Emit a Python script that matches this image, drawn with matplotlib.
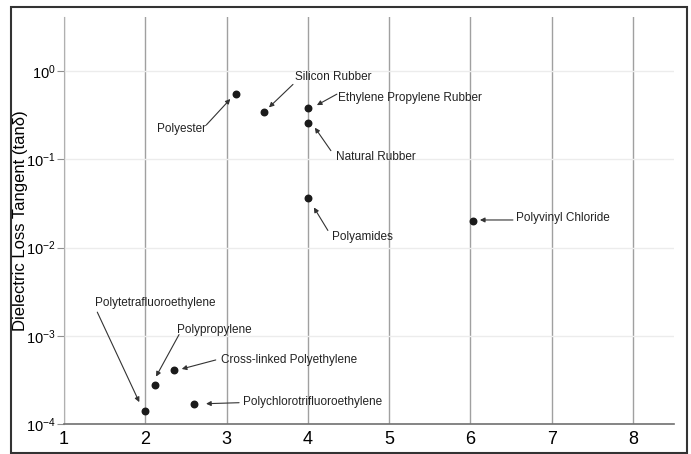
import matplotlib
matplotlib.use("Agg")
import matplotlib.pyplot as plt
from matplotlib.patches import Rectangle
from matplotlib.transforms import offset_copy

plt.rcParams['font.family'] = ['Liberation Sans', 'DejaVu Sans']
plt.rcParams['mathtext.fontset'] = 'custom'
plt.rcParams['mathtext.rm'] = 'Liberation Sans'
plt.rcParams['mathtext.it'] = 'Liberation Sans:italic'
plt.rcParams['axes.unicode_minus'] = False

# dielectric constant vs loss tangent of insulating polymers
materials = ["Polyester", "Silicon Rubber", "Ethylene Propylene Rubber",
             "Natural Rubber", "Polyamides", "Polyvinyl Chloride",
             "Polytetrafluoroethylene", "Polypropylene",
             "Cross-linked Polyethylene", "Polychlorotrifluoroethylene"]
permittivity = [3.12, 3.46, 4.0, 4.0, 4.0, 6.03, 2.0, 2.12, 2.35, 2.6]
loss_tangent = [0.55, 0.34, 0.38, 0.26, 0.036, 0.020, 1.4e-4, 2.8e-4, 4.1e-4, 1.7e-4]
y_ticks = [1e-4, 1e-3, 1e-2, 1e-1, 1e0]
y_exponents = [-4, -3, -2, -1, 0]

# label layout in pixels relative to each point (dx right, dy down):
# text anchor, arrow tail, arrow head
label_layout = [
    ((-55, 35, 'center'), (-30, 31), (-6, 5)),
    ((31, -35, 'left'), (29, -28), (5, -5)),
    ((30, -10, 'left'), (29, -14), (9, -3)),
    ((28, 34, 'left'), (23, 28), (7, 5)),
    ((24, 39, 'left'), (20, 32), (6, 9)),
    ((43, -3, 'left'), (40, -1), (7, -1)),
    ((-50, -108, 'left'), (-48, -99), (-6, -9)),
    ((22, -55, 'left'), (24, -50), (1, -8)),
    ((47, -10, 'left'), (42, -10), (8, -1)),
    ((49, -2, 'left'), (45, -1), (12, 0)),
]

fig = plt.figure(figsize=(6.91, 4.54), dpi=100)
ax = fig.add_axes([0.0926, 0.066, 0.8824, 0.8966])

ax.scatter(permittivity, loss_tangent, s=22, color='#1a1a1a', zorder=3)

ax.set_yscale('log')
ax.set_xlim(1, 8.5)
ax.set_ylim(1e-4, 4.1)
ax.set_xticks(range(1, 9))
ax.set_yticks(y_ticks)
ax.set_yticklabels([r'$\mathrm{10^{%d}}$' % e for e in y_exponents])
ax.minorticks_off()

ax.grid(axis='x', color='#a0a0a0', lw=1.0)
ax.grid(axis='y', color='#ececec', lw=1.0)
ax.set_axisbelow(True)

for s in ['top', 'right']:
    ax.spines[s].set_visible(False)
ax.spines['left'].set_color('#b0b0b0')
ax.spines['bottom'].set_color('#707070')
ax.spines['bottom'].set_linewidth(1.2)
ax.tick_params(axis='y', length=5, color='#909090', labelsize=10.5, pad=1)
ax.tick_params(axis='x', length=0, labelsize=13, pad=5)

ax.set_ylabel('Dielectric Loss Tangent (tanδ)', fontsize=12)
ax.yaxis.set_label_coords(-0.059, 0.5)

for name, x, y, (txt, tail, head) in zip(materials, permittivity, loss_tangent, label_layout):
    tx, ty, ha = txt
    ax.annotate(name, xy=(x, y), xytext=(tx, -ty), textcoords='offset pixels',
                ha=ha, va='center', fontsize=8.5, color='#222222')
    head_tr = offset_copy(ax.transData, fig=fig, x=head[0], y=-head[1], units='dots')
    ax.annotate('', xy=(x, y), xycoords=head_tr,
                xytext=(tail[0] - head[0], -(tail[1] - head[1])), textcoords='offset pixels',
                arrowprops=dict(arrowstyle='-|>', color='#333333', lw=0.8,
                                mutation_scale=7, shrinkA=0, shrinkB=0))

# outer frame
fig.patches.append(Rectangle((11 / 691, 1 / 454), 676 / 691, 446 / 454,
                             transform=fig.transFigure, fill=False,
                             edgecolor='#333333', lw=1.5))

fig.savefig('out.png', dpi=100)
